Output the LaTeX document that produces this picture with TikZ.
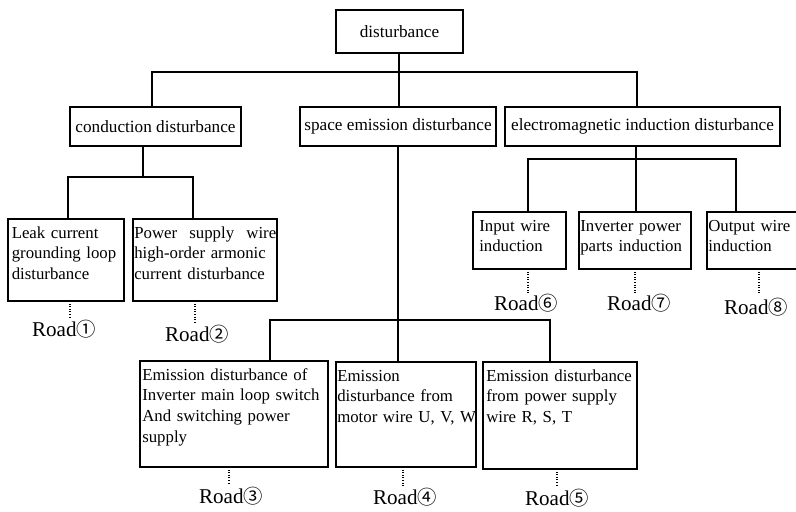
\documentclass[tikz,border=0pt]{standalone}
\usepackage{fontspec}
\setmainfont{Liberation Serif}
\newfontfamily\circfont{Noto Sans CJK SC}
\usetikzlibrary{calc}
\tikzset{
  frame/.style={draw, line width=1pt, inner sep=0pt, outer sep=0pt, anchor=north west,
    font=\fontsize{12.9}{15}\selectfont},
  txt/.style={anchor=north west, inner sep=0pt, align=left,
    font=\fontsize{12.6}{15.5}\selectfont},
  road/.style={anchor=base, inner sep=0pt, font=\fontsize{15.8}{18}\selectfont},
  wire/.style={line width=1pt},
  dots/.style={line width=0.8pt, dash pattern=on 0.75pt off 1.2pt},
}
\newcommand\mkframe[6]{\node[frame, minimum width={(#4-#2)*0.75pt}, minimum height={(#5-#3)*0.75pt}] (#1) at (#2,#3) {#6};}
\newcommand\rd[1]{Road{\circfont\fontsize{14.5}{15}\selectfont #1}}
\begin{document}
\begin{tikzpicture}[x=0.75pt,y=-0.75pt]
\useasboundingbox (0,0) rectangle (796,511);
% top levels
\mkframe{top}{336}{10}{463}{53}{disturbance}
\mkframe{cond}{70}{107}{241}{146}{conduction disturbance}
\mkframe{sp}{300}{107}{496}{146}{space emission disturbance}
\mkframe{em}{505}{107}{780}{146}{electromagnetic induction disturbance}
% leaf frames
\mkframe{leak}{8}{219}{124}{301}{}
\mkframe{pw}{133}{219}{277}{301}{}
\mkframe{inp}{473}{212}{566}{269}{}
\mkframe{inv}{579}{212}{691}{269}{}
\mkframe{outp}{707}{212}{798}{269}{}
\mkframe{e3}{140}{361}{328}{467}{}
\mkframe{e4}{336}{362}{476}{467}{}
\mkframe{e5}{483}{362}{637}{469}{}
% leaf texts
\node[txt, text width=100pt] (leakt) at ($(leak.north west)+(3.5,4.5)$) {\strut Leak current\\grounding loop\\disturbance};
\node[txt, text width=106.5pt] (pwt) at ($(pw.north west)+(1,4.5)$) {\strut Power\hfill supply\hfill wire\\high-order armonic\\current disturbance};
\node[txt, text width=90pt] (inpt) at ($(inp.north west)+(6,4.5)$) {\strut Input wire\\induction};
\node[txt, text width=100pt] (invt) at ($(inv.north west)+(1,4.5)$) {\strut Inverter power\\parts induction};
\node[txt, text width=90pt] (outpt) at ($(outp.north west)+(1,4.5)$) {\strut Output wire\\induction};
\node[txt, text width=160pt] (e3t) at ($(e3.north west)+(2,4.5)$) {\strut Emission disturbance of\\Inverter main loop switch\\And switching power\\supply};
\node[txt, text width=130pt] (e4t) at ($(e4.north west)+(1,4.5)$) {\strut Emission\\disturbance from\\motor wire U, V, W};
\node[txt, text width=130pt] (e5t) at ($(e5.north west)+(3,4.5)$) {\strut Emission disturbance\\from power supply\\wire R, S, T};
% level 1 connectors
\coordinate (b1L) at (152,72);
\coordinate (b1M) at (399,72);
\coordinate (b1R) at (637,72);
\draw[wire] (b1M |- top.south) -- (b1M |- sp.north);
\draw[wire] (b1L |- cond.north) -- (b1L) -- (b1R) -- (b1R |- em.north);
% conduction subtree
\coordinate (c1) at (143,177);
\coordinate (cL) at (68,177);
\coordinate (cR) at (193,177);
\draw[wire] (c1 |- cond.south) -- (c1);
\draw[wire] (cL |- leak.north) -- (cL) -- (cR) -- (cR |- pw.north);
% electromagnetic subtree
\coordinate (eL) at (528,159);
\coordinate (eM) at (636,159);
\coordinate (eR) at (736,159);
\draw[wire] (eM |- em.south) -- (eM |- inv.north);
\draw[wire] (eL |- inp.north) -- (eL) -- (eR) -- (eR |- outp.north);
% space emission subtree
\coordinate (sL) at (270,320);
\coordinate (sM) at (398,320);
\coordinate (sR) at (550,320);
\draw[wire] (sM |- sp.south) -- (sM |- e4.north);
\draw[wire] (sL |- e3.north) -- (sL) -- (sR) -- (sR |- e5.north);
% road labels
\node[road] (r1) at (64,336) {\rd{①}};
\node[road] (r2) at (197,341) {\rd{②}};
\node[road] (r6) at (526,310) {\rd{⑥}};
\node[road] (r7) at (639,310) {\rd{⑦}};
\node[road] (r8) at (756,314) {\rd{⑧}};
\node[road] (r3) at (231,503) {\rd{③}};
\node[road] (r4) at (405,504) {\rd{④}};
\node[road] (r5) at (557,505) {\rd{⑤}};
% dotted leaders
\coordinate (d1) at (70,317);
\coordinate (d2) at (195,323);
\coordinate (d6) at (528,293);
\coordinate (d7) at (635,293);
\coordinate (d8) at (759,295);
\coordinate (d3) at (229,485);
\coordinate (d4) at (403,487);
\coordinate (d5) at (557,485);
\draw[dots] (d1 |- leak.south) -- (d1);
\draw[dots] (d2 |- pw.south) -- (d2);
\draw[dots] (d6 |- inp.south) -- (d6);
\draw[dots] (d7 |- inv.south) -- (d7);
\draw[dots] (d8 |- outp.south) -- (d8);
\draw[dots] (d3 |- e3.south) -- (d3);
\draw[dots] (d4 |- e4.south) -- (d4);
\draw[dots] (d5 |- e5.south) -- (d5);
\end{tikzpicture}
\end{document}
